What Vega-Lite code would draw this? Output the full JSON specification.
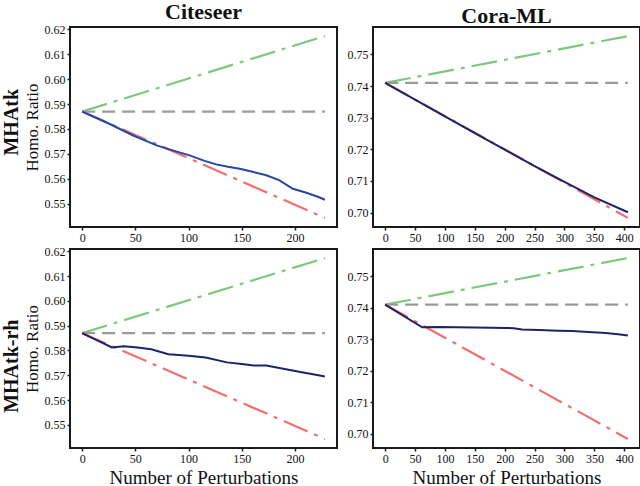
{
  "$schema": "https://vega.github.io/schema/vega-lite/v6.json",
  "background": "white",
  "padding": {"left": 2, "top": 0, "right": 1, "bottom": 0},
  "spacing": 0,
  "config": {
    "font": "Liberation Serif",
    "view": {"stroke": "#1a1a1a", "strokeWidth": 2},
    "axis": {"grid": false, "domain": false, "tickColor": "#1a1a1a", "tickSize": 3, "tickWidth": 1.5, "labelFont": "Liberation Serif", "labelFontSize": 12, "labelColor": "#111111", "labelPadding": 2, "titleFont": "Liberation Serif", "titleFontWeight": "normal", "titleColor": "#111111"},
    "title": {"font": "Liberation Serif", "fontWeight": "bold", "color": "#111111"},
    "concat": {"spacing": 8}
  },
  "datasets": {
    "d": [
      {"panel": "a", "series": "up", "x": 0, "y": 0.587},
      {"panel": "a", "series": "up", "x": 228, "y": 0.6173},
      {"panel": "a", "series": "flat", "x": 0, "y": 0.587},
      {"panel": "a", "series": "flat", "x": 228, "y": 0.587},
      {"panel": "a", "series": "down", "x": 0, "y": 0.587},
      {"panel": "a", "series": "down", "x": 228, "y": 0.5443},
      {"panel": "a", "series": "blue", "x": 0, "y": 0.587},
      {"panel": "a", "series": "blue", "x": 13, "y": 0.5845},
      {"panel": "a", "series": "blue", "x": 26, "y": 0.582},
      {"panel": "a", "series": "blue", "x": 37, "y": 0.5797},
      {"panel": "a", "series": "blue", "x": 48, "y": 0.5774},
      {"panel": "a", "series": "blue", "x": 60, "y": 0.5752},
      {"panel": "a", "series": "blue", "x": 70, "y": 0.5734},
      {"panel": "a", "series": "blue", "x": 85, "y": 0.5714},
      {"panel": "a", "series": "blue", "x": 101, "y": 0.5694},
      {"panel": "a", "series": "blue", "x": 115, "y": 0.5672},
      {"panel": "a", "series": "blue", "x": 126, "y": 0.5658},
      {"panel": "a", "series": "blue", "x": 137, "y": 0.5648},
      {"panel": "a", "series": "blue", "x": 148, "y": 0.564},
      {"panel": "a", "series": "blue", "x": 160, "y": 0.5628},
      {"panel": "a", "series": "blue", "x": 173, "y": 0.5614},
      {"panel": "a", "series": "blue", "x": 185, "y": 0.5595},
      {"panel": "a", "series": "blue", "x": 198, "y": 0.556},
      {"panel": "a", "series": "blue", "x": 210, "y": 0.5545},
      {"panel": "a", "series": "blue", "x": 222, "y": 0.5527},
      {"panel": "a", "series": "blue", "x": 228, "y": 0.5516},
      {"panel": "b", "series": "up", "x": 0, "y": 0.587},
      {"panel": "b", "series": "up", "x": 228, "y": 0.6173},
      {"panel": "b", "series": "flat", "x": 0, "y": 0.587},
      {"panel": "b", "series": "flat", "x": 228, "y": 0.587},
      {"panel": "b", "series": "down", "x": 0, "y": 0.587},
      {"panel": "b", "series": "down", "x": 228, "y": 0.5443},
      {"panel": "b", "series": "blue", "x": 0, "y": 0.587},
      {"panel": "b", "series": "blue", "x": 28, "y": 0.5812},
      {"panel": "b", "series": "blue", "x": 39, "y": 0.5817},
      {"panel": "b", "series": "blue", "x": 52, "y": 0.5812},
      {"panel": "b", "series": "blue", "x": 65, "y": 0.5805},
      {"panel": "b", "series": "blue", "x": 81, "y": 0.5785},
      {"panel": "b", "series": "blue", "x": 100, "y": 0.5779},
      {"panel": "b", "series": "blue", "x": 116, "y": 0.5772},
      {"panel": "b", "series": "blue", "x": 136, "y": 0.5752},
      {"panel": "b", "series": "blue", "x": 150, "y": 0.5745},
      {"panel": "b", "series": "blue", "x": 161, "y": 0.5739},
      {"panel": "b", "series": "blue", "x": 173, "y": 0.5739},
      {"panel": "b", "series": "blue", "x": 189, "y": 0.5726},
      {"panel": "b", "series": "blue", "x": 205, "y": 0.5713},
      {"panel": "b", "series": "blue", "x": 222, "y": 0.57},
      {"panel": "b", "series": "blue", "x": 228, "y": 0.5695},
      {"panel": "c", "series": "up", "x": 0, "y": 0.741},
      {"panel": "c", "series": "up", "x": 406, "y": 0.7558},
      {"panel": "c", "series": "flat", "x": 0, "y": 0.741},
      {"panel": "c", "series": "flat", "x": 406, "y": 0.741},
      {"panel": "c", "series": "down", "x": 0, "y": 0.741},
      {"panel": "c", "series": "down", "x": 406, "y": 0.6983},
      {"panel": "c", "series": "blue", "x": 0, "y": 0.741},
      {"panel": "c", "series": "blue", "x": 50, "y": 0.7357},
      {"panel": "c", "series": "blue", "x": 100, "y": 0.7304},
      {"panel": "c", "series": "blue", "x": 150, "y": 0.7251},
      {"panel": "c", "series": "blue", "x": 200, "y": 0.7199},
      {"panel": "c", "series": "blue", "x": 250, "y": 0.7147},
      {"panel": "c", "series": "blue", "x": 300, "y": 0.7097},
      {"panel": "c", "series": "blue", "x": 350, "y": 0.7048},
      {"panel": "c", "series": "blue", "x": 406, "y": 0.7001},
      {"panel": "d", "series": "up", "x": 0, "y": 0.741},
      {"panel": "d", "series": "up", "x": 406, "y": 0.7558},
      {"panel": "d", "series": "flat", "x": 0, "y": 0.741},
      {"panel": "d", "series": "flat", "x": 406, "y": 0.741},
      {"panel": "d", "series": "down", "x": 0, "y": 0.741},
      {"panel": "d", "series": "down", "x": 406, "y": 0.6983},
      {"panel": "d", "series": "blue", "x": 0, "y": 0.741},
      {"panel": "d", "series": "blue", "x": 62, "y": 0.7338},
      {"panel": "d", "series": "blue", "x": 90, "y": 0.7339},
      {"panel": "d", "series": "blue", "x": 118, "y": 0.7338},
      {"panel": "d", "series": "blue", "x": 150, "y": 0.7337},
      {"panel": "d", "series": "blue", "x": 201, "y": 0.7336},
      {"panel": "d", "series": "blue", "x": 215, "y": 0.7335},
      {"panel": "d", "series": "blue", "x": 229, "y": 0.7331},
      {"panel": "d", "series": "blue", "x": 257, "y": 0.7329},
      {"panel": "d", "series": "blue", "x": 290, "y": 0.7327},
      {"panel": "d", "series": "blue", "x": 313, "y": 0.7326},
      {"panel": "d", "series": "blue", "x": 340, "y": 0.7323},
      {"panel": "d", "series": "blue", "x": 369, "y": 0.732},
      {"panel": "d", "series": "blue", "x": 390, "y": 0.7316},
      {"panel": "d", "series": "blue", "x": 406, "y": 0.7312}
    ]
  },
  "vconcat": [
    {
      "title": {"text": "MHAtk", "orient": "left", "anchor": "middle", "fontSize": 20, "offset": 0},
      "hconcat": [
        {
          "width": 267, "height": 200,
          "title": {"text": "Citeseer", "fontSize": 22, "anchor": "middle", "frame": "group", "offset": -1},
          "data": {"name": "d"},
          "transform": [{"filter": "datum.panel === 'a'"}],
          "encoding": {
            "x": {"field": "x", "type": "quantitative", "scale": {"domain": [-11.4, 239.4], "nice": false, "zero": false}, "axis": {"title": null, "values": [0, 50, 100, 150, 200], "labelFont": "Liberation Serif", "labelFontSize": 12}},
            "y": {"field": "y", "type": "quantitative", "scale": {"domain": [0.54065, 0.62095], "nice": false, "zero": false}, "axis": {"title": "Homo. Ratio", "values": [0.55, 0.56, 0.57, 0.58, 0.59, 0.6, 0.61, 0.62], "format": ".2f", "labelFont": "Liberation Serif", "labelFontSize": 12, "titleFont": "Liberation Serif", "titleFontSize": 17, "titleFontWeight": "normal", "titlePadding": 3}}
          },
          "layer": [
            {"transform": [{"filter": "datum.series !== 'blue'"}], "mark": {"type": "line", "strokeWidth": 2.2},
             "encoding": {
               "color": {"field": "series", "type": "nominal", "scale": {"domain": ["up", "flat", "down"], "range": ["#7cc87c", "#9a9a9a", "#f26f6f"]}, "legend": null},
               "strokeDash": {"field": "series", "type": "nominal", "scale": {"domain": ["up", "flat", "down"], "range": [[26, 7, 4, 7], [13, 7], [26, 7, 4, 7]]}, "legend": null}
             }},
            {"transform": [{"filter": "datum.series === 'blue'"}], "mark": {"type": "line", "strokeWidth": 2, "color": "#2347a3"}, "encoding": {}}
          ]
        },
        {
          "width": 267, "height": 200,
          "title": {"text": "Cora-ML", "fontSize": 22, "anchor": "middle", "frame": "group", "offset": -1},
          "data": {"name": "d"},
          "transform": [{"filter": "datum.panel === 'c'"}],
          "encoding": {
            "x": {"field": "x", "type": "quantitative", "scale": {"domain": [-20.3, 426.3], "nice": false, "zero": false}, "axis": {"title": null, "values": [0, 50, 100, 150, 200, 250, 300, 350, 400], "labelFont": "Liberation Serif", "labelFontSize": 12}},
            "y": {"field": "y", "type": "quantitative", "scale": {"domain": [0.695425, 0.758675], "nice": false, "zero": false}, "axis": {"title": null, "values": [0.7, 0.71, 0.72, 0.73, 0.74, 0.75], "format": ".2f", "labelFont": "Liberation Serif", "labelFontSize": 12}}
          },
          "layer": [
            {"transform": [{"filter": "datum.series !== 'blue'"}], "mark": {"type": "line", "strokeWidth": 2.2},
             "encoding": {
               "color": {"field": "series", "type": "nominal", "scale": {"domain": ["up", "flat", "down"], "range": ["#7cc87c", "#9a9a9a", "#f26f6f"]}, "legend": null},
               "strokeDash": {"field": "series", "type": "nominal", "scale": {"domain": ["up", "flat", "down"], "range": [[26, 7, 4, 7], [13, 7], [26, 7, 4, 7]]}, "legend": null}
             }},
            {"transform": [{"filter": "datum.series === 'blue'"}], "mark": {"type": "line", "strokeWidth": 2, "color": "#1c2468"}, "encoding": {}}
          ]
        }
      ]
    },
    {
      "title": {"text": "MHAtk-rh", "orient": "left", "anchor": "middle", "fontSize": 20, "offset": 0},
      "hconcat": [
        {
          "width": 267, "height": 199,
          "data": {"name": "d"},
          "transform": [{"filter": "datum.panel === 'b'"}],
          "encoding": {
            "x": {"field": "x", "type": "quantitative", "scale": {"domain": [-11.4, 239.4], "nice": false, "zero": false}, "axis": {"title": "Number of Perturbations", "values": [0, 50, 100, 150, 200], "labelFont": "Liberation Serif", "labelFontSize": 12, "titleFont": "Liberation Serif", "titleFontSize": 19, "titleFontWeight": "normal", "titlePadding": 4}},
            "y": {"field": "y", "type": "quantitative", "scale": {"domain": [0.54065, 0.62095], "nice": false, "zero": false}, "axis": {"title": "Homo. Ratio", "values": [0.55, 0.56, 0.57, 0.58, 0.59, 0.6, 0.61, 0.62], "format": ".2f", "labelFont": "Liberation Serif", "labelFontSize": 12, "titleFont": "Liberation Serif", "titleFontSize": 17, "titleFontWeight": "normal", "titlePadding": 3}}
          },
          "layer": [
            {"transform": [{"filter": "datum.series !== 'blue'"}], "mark": {"type": "line", "strokeWidth": 2.2},
             "encoding": {
               "color": {"field": "series", "type": "nominal", "scale": {"domain": ["up", "flat", "down"], "range": ["#7cc87c", "#9a9a9a", "#f26f6f"]}, "legend": null},
               "strokeDash": {"field": "series", "type": "nominal", "scale": {"domain": ["up", "flat", "down"], "range": [[26, 7, 4, 7], [13, 7], [26, 7, 4, 7]]}, "legend": null}
             }},
            {"transform": [{"filter": "datum.series === 'blue'"}], "mark": {"type": "line", "strokeWidth": 2, "color": "#1c2468"}, "encoding": {}}
          ]
        },
        {
          "width": 267, "height": 199,
          "data": {"name": "d"},
          "transform": [{"filter": "datum.panel === 'd'"}],
          "encoding": {
            "x": {"field": "x", "type": "quantitative", "scale": {"domain": [-20.3, 426.3], "nice": false, "zero": false}, "axis": {"title": "Number of Perturbations", "values": [0, 50, 100, 150, 200, 250, 300, 350, 400], "labelFont": "Liberation Serif", "labelFontSize": 12, "titleFont": "Liberation Serif", "titleFontSize": 19, "titleFontWeight": "normal", "titlePadding": 4}},
            "y": {"field": "y", "type": "quantitative", "scale": {"domain": [0.695425, 0.758675], "nice": false, "zero": false}, "axis": {"title": null, "values": [0.7, 0.71, 0.72, 0.73, 0.74, 0.75], "format": ".2f", "labelFont": "Liberation Serif", "labelFontSize": 12}}
          },
          "layer": [
            {"transform": [{"filter": "datum.series !== 'blue'"}], "mark": {"type": "line", "strokeWidth": 2.2},
             "encoding": {
               "color": {"field": "series", "type": "nominal", "scale": {"domain": ["up", "flat", "down"], "range": ["#7cc87c", "#9a9a9a", "#f26f6f"]}, "legend": null},
               "strokeDash": {"field": "series", "type": "nominal", "scale": {"domain": ["up", "flat", "down"], "range": [[26, 7, 4, 7], [13, 7], [26, 7, 4, 7]]}, "legend": null}
             }},
            {"transform": [{"filter": "datum.series === 'blue'"}], "mark": {"type": "line", "strokeWidth": 2, "color": "#1c2468"}, "encoding": {}}
          ]
        }
      ]
    }
  ]
}
